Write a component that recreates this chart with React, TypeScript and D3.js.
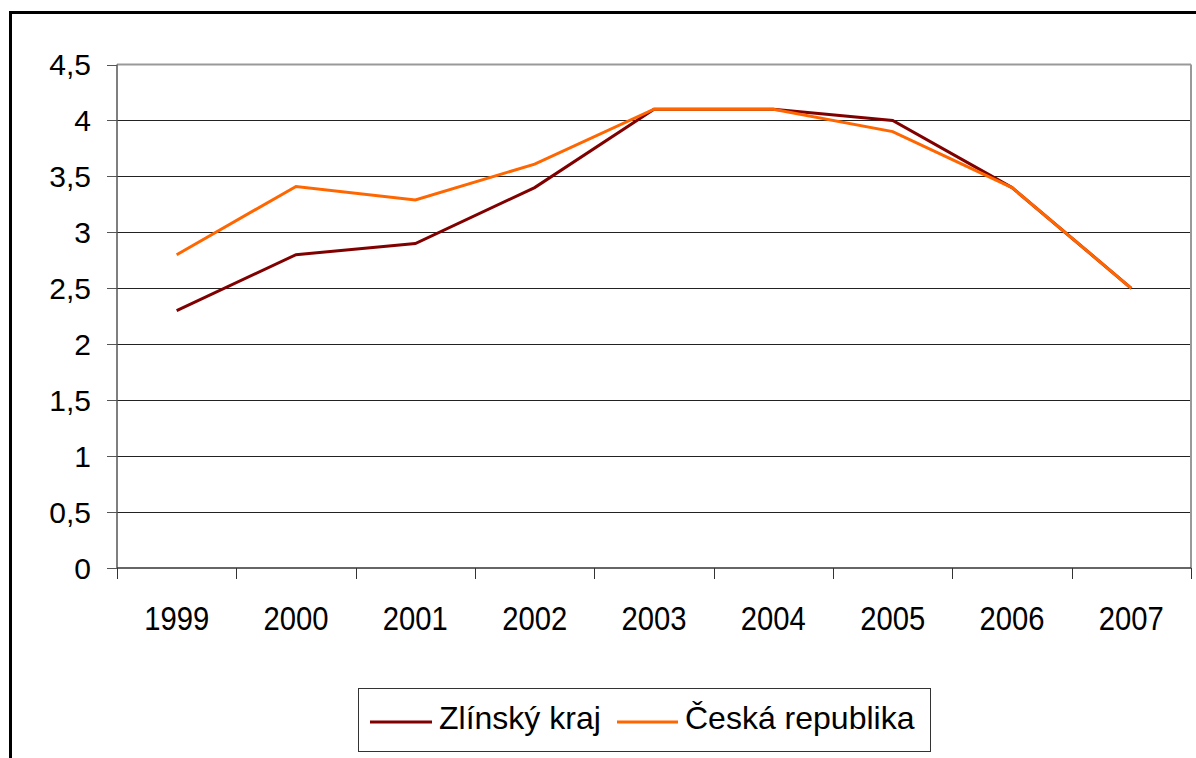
import React from 'react';
import * as d3 from 'd3';

const years = ['1999', '2000', '2001', '2002', '2003', '2004', '2005', '2006', '2007'];
const zlinsky = [2.3, 2.8, 2.9, 3.4, 4.1, 4.1, 4.0, 3.4, 2.5];
const ceska = [2.8, 3.41, 3.29, 3.61, 4.1, 4.1, 3.9, 3.4, 2.5];
const yTicks = [0, 0.5, 1, 1.5, 2, 2.5, 3, 3.5, 4, 4.5];
const seriesNames = ['Zlínský kraj', 'Česká republika'];
const seriesColors = ['#800000', '#ff6600'];

const W = 1196, H = 758;
const plot = { left: 117, right: 1191, top: 64.5, bottom: 568 };
const font = '"Liberation Sans", Arial, sans-serif';

const fmt = (v: number) => String(v).replace('.', ',');

const App = () => {
  const x = d3.scaleBand<string>().domain(years).range([plot.left, plot.right]);
  const y = d3.scaleLinear().domain([0, 4.5]).range([plot.bottom, plot.top]);
  const line = d3.line<number>()
    .x((_, i) => (x(years[i]) as number) + x.bandwidth() / 2)
    .y(d => y(d));
  const bounds = years.map(yr => x(yr) as number).concat([plot.right]);

  return <svg width={W} height={H} style={{ position: 'absolute', left: 0, top: 0 }}>
    <rect x={0} y={0} width={W} height={H} fill='#fff' />
    {/* frame */}
    <rect x={10.5} y={12.5} width={1200} height={800} fill='none' stroke='#000' strokeWidth={3} />

    {/* grid */}
    {yTicks.filter(t => t > 0 && t < 4.5).map(t =>
      <line key={t} x1={plot.left} x2={plot.right} y1={Math.round(y(t)) + 0.5} y2={Math.round(y(t)) + 0.5}
        stroke='#222' strokeWidth={1} />)}
    <line x1={plot.left} x2={plot.right} y1={plot.top} y2={plot.top} stroke='#999' strokeWidth={2} />
    <line x1={plot.right} x2={plot.right} y1={plot.top} y2={plot.bottom} stroke='#999' strokeWidth={2} />

    {/* y axis */}
    <line x1={plot.left} x2={plot.left} y1={plot.top} y2={plot.bottom} stroke='#555' strokeWidth={1.5} />
    {yTicks.map(t => <g key={t}>
      <line x1={plot.left - 10} x2={plot.left} y1={Math.round(y(t)) + 0.5} y2={Math.round(y(t)) + 0.5} stroke='#555' />
      <text x={91} y={y(t)} dy='0.36em' textAnchor='end' fontFamily={font} fontSize={30}
        fill='#000'>{fmt(t)}</text>
    </g>)}

    {/* x axis */}
    <line x1={plot.left} x2={plot.right} y1={plot.bottom} y2={plot.bottom} stroke='#333' strokeWidth={1.5} />
    {bounds.map((b, i) =>
      <line key={i} x1={Math.round(b) + 0.5} x2={Math.round(b) + 0.5} y1={plot.bottom} y2={plot.bottom + 11} stroke='#333' />)}
    {years.map(yr =>
      <text key={yr} transform={`translate(${(x(yr) as number) + x.bandwidth() / 2},630) scale(0.86,1)`}
        textAnchor='middle' fontFamily={font} fontSize={34} fill='#000'>{yr}</text>)}

    {/* lines */}
    {[zlinsky, ceska].map((s, i) =>
      <path key={i} d={line(s) || ''} fill='none' stroke={seriesColors[i]} strokeWidth={3} strokeLinejoin='miter' />)}

    {/* legend */}
    <rect x={358.5} y={688.5} width={572} height={63} fill='#fff' stroke='#333' strokeWidth={1} />
    <line x1={370} x2={432} y1={722} y2={722} stroke={seriesColors[0]} strokeWidth={3} />
    <text x={439} y={729} fontFamily={font} fontSize={32} fill='#000'>{seriesNames[0]}</text>
    <line x1={617} x2={678} y1={722} y2={722} stroke={seriesColors[1]} strokeWidth={3} />
    <text x={685} y={729} fontFamily={font} fontSize={32} fill='#000'>{seriesNames[1]}</text>
  </svg>;
};

export default App;
